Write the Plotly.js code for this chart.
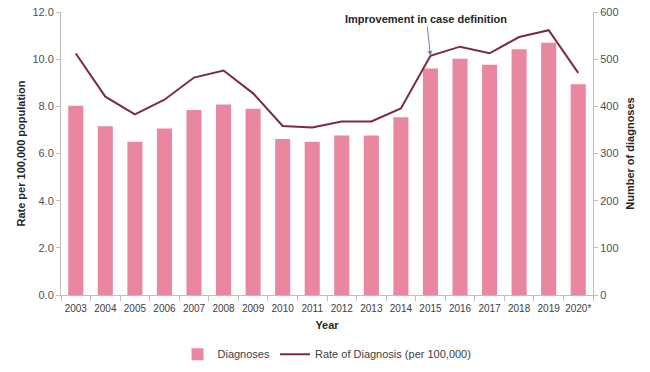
<!DOCTYPE html>
<html>
<head>
<meta charset="utf-8">
<script src="https://cdn.plot.ly/plotly-3.0.1.min.js"></script>
<style>html,body{margin:0;padding:0;background:#fff;}#chart{width:650px;height:372px;}</style>
</head>
<body>
<div id="chart"></div>
<script>
const years = ["2003","2004","2005","2006","2007","2008","2009","2010","2011","2012","2013","2014","2015","2016","2017","2018","2019","2020*"];
const diagnoses = [401,358,325,353,392,404,395,331,325,338,338,377,480,501,488,521,535,447];
const rate = [10.24,8.41,7.66,8.28,9.22,9.52,8.55,7.17,7.10,7.36,7.36,7.91,10.14,10.53,10.25,10.94,11.23,9.42];
const leftTicks = [0,2,4,6,8,10,12];
const leftTickText = ["0.0","2.0","4.0","6.0","8.0","10.0","12.0"];
const rightTicks = [0,100,200,300,400,500,600];
const annotatedYear = "2015";

const font = "Liberation Sans, Arial, sans-serif";
const annIdx = years.indexOf(annotatedYear);
const data = [
  {type:"bar", x:years, y:diagnoses, name:"Diagnoses", yaxis:"y",
   marker:{color:"#e8879f"}},
  {type:"scatter", mode:"lines", x:years, y:rate, name:"Rate of Diagnosis (per 100,000)", yaxis:"y2",
   line:{color:"#7b2a45", width:2}}
];
const layout = {
  width:650, height:372,
  margin:{l:61, r:57, t:12, b:77, autoexpand:false},
  paper_bgcolor:"#fff", plot_bgcolor:"#fff",
  font:{family:font, size:10, color:"#404040"},
  bargap:0.49,
  showlegend:true,
  legend:{orientation:"h", x:0.5, xanchor:"center", yref:"container", y:0.048, yanchor:"middle",
          font:{size:11, color:"#404040"}, traceorder:"normal"},
  xaxis:{type:"category", automargin:false, range:[-0.5, years.length-0.5], tickson:"boundaries", ticks:"outside", ticklen:5, tickcolor:"#bfbfbf",
         showline:true, linecolor:"#bfbfbf", linewidth:1, showgrid:false,
         tickfont:{size:10, color:"#404040"}, tickangle:0, ticklabelstandoff:4,
         title:{text:"<b>Year</b>", font:{size:11, color:"#262626"}, standoff:8}},
  yaxis:{side:"right", automargin:false, range:[0,600], tickvals:rightTicks, ticktext:rightTicks.map(String),
         ticks:"outside", ticklen:4, tickcolor:"#bfbfbf", showline:true, linecolor:"#bfbfbf",
         showgrid:false, zeroline:false, tickfont:{size:11, color:"#505050"},
         title:{text:"<b>Number of diagnoses</b>", font:{size:11, color:"#262626"}, standoff:8}},
  yaxis2:{side:"left", automargin:false, overlaying:"y", range:[0,12], tickvals:leftTicks, ticktext:leftTickText,
          ticks:"outside", ticklen:4, tickcolor:"#bfbfbf", showline:true, linecolor:"#bfbfbf",
          showgrid:false, zeroline:false, tickfont:{size:11, color:"#505050"},
          title:{text:"<b>Rate per 100,000 population</b>", font:{size:11, color:"#262626"}, standoff:4}},
  annotations:[
    {x:annIdx, y:rate[annIdx], xref:"x", yref:"y2", text:"<b>Improvement in case definition</b>",
     showarrow:true, arrowhead:2, arrowsize:1, arrowwidth:1, arrowcolor:"#8a78a8",
     ax:-4, ay:-37, font:{size:11, color:"#262626"}}
  ]
};
Plotly.newPlot("chart", data, layout, {displayModeBar:false, staticPlot:true});
</script>
</body>
</html>
